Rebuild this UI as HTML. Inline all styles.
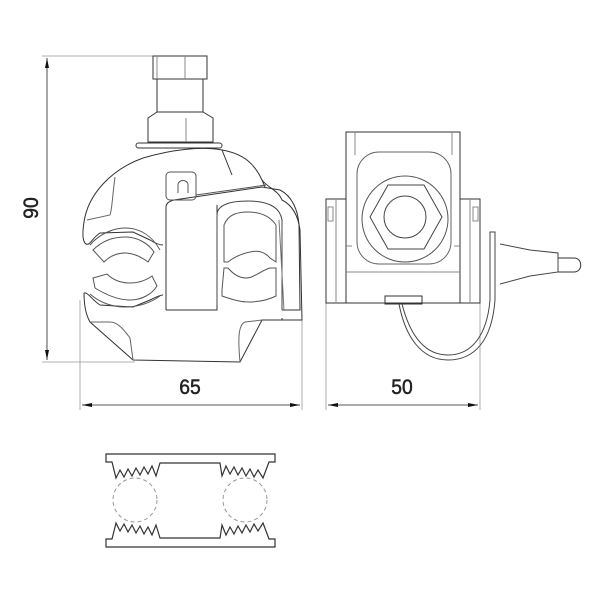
<!DOCTYPE html>
<html><head><meta charset="utf-8"><style>
html,body{margin:0;padding:0;background:#fff;}
svg{display:block}
text{font-family:"Liberation Sans","DejaVu Sans",sans-serif;font-weight:normal;fill:#222;stroke:#222;stroke-width:0.5}
</style></head><body>
<svg width="600" height="600" viewBox="0 0 600 600" xmlns="http://www.w3.org/2000/svg">
<defs>
<marker id="a" viewBox="0 0 10 4" refX="10" refY="2" markerWidth="10" markerHeight="4" orient="auto-start-reverse" markerUnits="userSpaceOnUse"><path d="M0,0 L10,2 L0,4z" fill="#111"/></marker>
</defs>
<g fill="none" stroke="#999" stroke-width="0.8">
<line x1="42" y1="56" x2="155" y2="56"/>
<line x1="42" y1="362" x2="135" y2="362"/>
<line x1="80" y1="300" x2="80" y2="410"/>
<line x1="302" y1="320" x2="302" y2="410"/>
<line x1="326" y1="303" x2="326" y2="410"/>
<line x1="480" y1="303" x2="480" y2="410"/>
</g>
<g stroke="#222" stroke-width="0.8" fill="none">
<line x1="47" y1="58" x2="47" y2="360" marker-start="url(#a)" marker-end="url(#a)"/>
<line x1="82" y1="405" x2="300" y2="405" marker-start="url(#a)" marker-end="url(#a)"/>
<line x1="328" y1="405" x2="478" y2="405" marker-start="url(#a)" marker-end="url(#a)"/>
</g>
<text x="0" y="0" font-size="21" text-anchor="middle" transform="translate(190,394) scale(0.92,1)">65</text>
<text x="0" y="0" font-size="21" text-anchor="middle" transform="translate(402,394) scale(0.92,1)">50</text>
<text x="0" y="0" font-size="21" text-anchor="middle" transform="translate(38,208) rotate(-90) scale(0.92,1)">90</text>

<g fill="none" stroke="#333" stroke-width="1">
<rect x="153" y="56" width="54" height="23"/>
<line x1="157" y1="56" x2="157" y2="79" stroke="#888"/>
<line x1="185" y1="56" x2="185" y2="79" stroke="#888"/>
<path d="M157,79 L157,112 L203,112 L203,79"/>
<path d="M157,112 L148,118 L148,142 L213,142 L213,118 L203,112"/>
<line x1="186" y1="118" x2="186" y2="142" stroke="#888"/>
<rect x="136" y="143" width="86" height="5" rx="2.5"/>
<path d="M143,158 C110,170 88,195 84,222 C82,235 83,242 86,244 C90,246 92,238 100,233 L133,232 L150,240 C158,245 162,245 163,245"/>
<path d="M143,158 C170,150 200,146 222,150 C245,154 255,165 262,180 C268,188 278,190 282,200 C292,205 298,215 300,230 L302,320 L282,320 L282,318"/>
<path d="M222,150 L232,175"/>
<path d="M262,180 L265,187"/>
<path d="M84,293 C88,292 92,300 100,305 L133,307 L150,300 C158,296 162,295 163,295"/>
<path d="M84,293 C84,305 86,315 90,322 L133,360 L240,362 L262,320 L282,320"/>
<path d="M90,322 L110,322 C118,322 124,330 130,338 L133,360" stroke="#666"/>
<path d="M262,320 L245,322 C238,325 238,340 240,362" stroke="#666"/>
<path d="M115,177 C112,200 112,210 110,215 L87,220" stroke="#666"/>
<path d="M90,245 C100,233 115,228 125,228 C140,228 152,236 160,250" stroke="#555"/>
<path d="M93,250 C103,240 115,237 125,237 C137,237 148,243 154,252 L148,262 C140,256 133,253 125,253 C115,253 108,258 104,262 Z" stroke="#555"/>
<path d="M93,278 L95,288 C108,296 120,300 130,300 C142,300 152,294 157,286 L152,276 C145,281 138,283 130,283 C120,283 112,279 107,274 Z" stroke="#555"/>
<path d="M90,294 C100,303 113,307 125,307 C138,307 150,303 160,296" stroke="#555"/>
<path d="M166,310 L166,207 C166,203 170,201 174,200 L262,187 L280,190 C292,196 298,210 299,225 L300,310 L282,310"/>
<path d="M166,310 L217,310 L217,205"/>
<rect x="166" y="172" width="30" height="28" rx="4" stroke="#555"/>
<path d="M178,193 L178,185 C178,179 188,179 188,185 L188,193" stroke="#555"/>
<line x1="196" y1="195" x2="266" y2="185" stroke="#555"/>
<path d="M217,305 L217,215 C217,205 230,201 248,201 C266,201 280,206 282,220 L282,310" stroke="#444"/>
<path d="M224,225 C228,215 236,212 248,212 C260,212 270,216 276,225 L276,262 L270,258 C265,252 258,250 250,252 C240,254 233,258 228,262 L224,262 Z" stroke="#555"/>
<path d="M222,290 L224,268 L228,268 C234,275 240,278 246,278 C254,278 262,270 270,268 L276,268 L276,296 C268,300 258,302 248,302 C238,302 228,298 222,296 Z" stroke="#555"/>
<line x1="279" y1="220" x2="284" y2="310" stroke="#777"/>
</g>

<g fill="none" stroke="#333" stroke-width="1">
<path d="M346,303 L346,132 L460,132 L460,303 Z"/>
<line x1="355" y1="132" x2="355" y2="155" stroke="#888"/>
<line x1="452" y1="132" x2="452" y2="155" stroke="#888"/>
<rect x="326" y="199" width="20" height="104"/>
<rect x="460" y="199" width="20" height="104"/>
<line x1="336" y1="199" x2="336" y2="303" stroke="#888"/>
<line x1="470" y1="199" x2="470" y2="303" stroke="#888"/>
<rect x="328" y="207" width="5" height="14" stroke="#888"/>
<rect x="473" y="207" width="5" height="14" stroke="#888"/>
<rect x="357" y="152" width="94" height="112" rx="22" stroke="#666"/>
<line x1="346" y1="272" x2="460" y2="272" stroke="#888"/>
<line x1="346" y1="246" x2="352" y2="246" stroke="#888"/>
<line x1="454" y1="246" x2="460" y2="246" stroke="#888"/>
<circle cx="405" cy="219" r="43" stroke="#555"/>
<polygon points="370,217 388,185 424,185 442,217 424,249 388,249" stroke="#444"/>
<circle cx="405" cy="217" r="21" stroke="#444"/>
<rect x="385" y="296" width="37" height="8"/>
<path d="M399,304 C405,335 420,360 448,360 C475,360 492,340 495,300 L495,232 L490,232 L490,300 C487,335 472,355 448,355 C424,355 410,335 402,304" stroke="#444"/>
<path d="M500,244 L530,250 L558,253 L558,272 L530,276 L500,284" stroke="#444"/>
<path d="M558,258 L574,258 C583,258 583,272 574,272 L558,272"/>
</g>

<g fill="none" stroke="#333" stroke-width="1.2">
<path d="M106,454 L275,454 L275,462 L269,462 L263,478 L258,470 L254,477 L250,469 L246,476 L242,468 L238,475 L234,467 L230,474 L226,466 L222,476 L220,463 L160,463 L156,476 L152,466 L148,474 L144,467 L140,475 L136,468 L132,476 L128,469 L124,477 L120,470 L116,478 L112,462 L106,462 Z"/>
<path d="M106,547 L275,547 L275,539 L269,539 L263,523 L258,531 L254,524 L250,532 L246,525 L242,533 L238,526 L234,534 L230,527 L226,535 L222,525 L220,538 L160,538 L156,525 L152,535 L148,527 L144,534 L140,526 L136,533 L132,525 L128,532 L124,524 L120,531 L116,523 L112,539 L106,539 Z"/>
</g>
<g fill="none" stroke="#999" stroke-width="1" stroke-dasharray="4,3">
<circle cx="135" cy="500" r="22"/>
<circle cx="245" cy="500" r="22"/>
</g>
</svg>
</body></html>
